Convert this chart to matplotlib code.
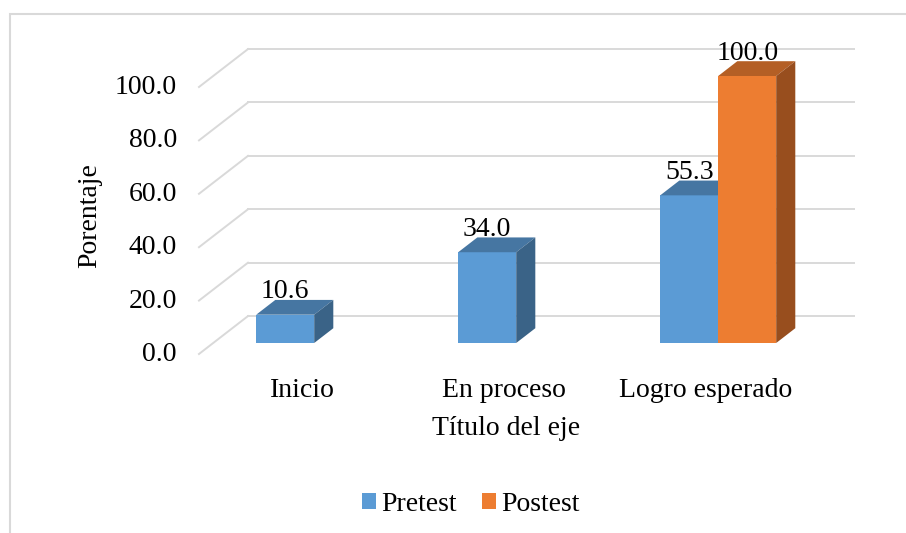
import numpy as np
import matplotlib
matplotlib.use("Agg")
import matplotlib.pyplot as plt
from matplotlib.patches import Polygon, Rectangle

plt.rcParams['font.family'] = ['Liberation Serif', 'DejaVu Serif']

# data
categories = ["Inicio", "En proceso", "Logro esperado"]
pretest = [10.6, 34.0, 55.3]
postest = [np.nan, np.nan, 100.0]
series_names = ["Pretest", "Postest"]
yticks = [0, 20, 40, 60, 80, 100]
xlabel = "Título del eje"
ylabel = "Porentaje"

# colours: front, top, side
colors = {
    "Pretest": ("#5B9BD5", "#4676A2", "#3A6387"),
    "Postest": ("#ED7D31", "#B45F25", "#984E1E"),
}
grid_color = "#D9D9D9"

# oblique projection of the 3D look (x in category units, y in value units)
DX = 0.2426   # full floor depth, x
DY = 14.2     # full floor depth, y
F1 = 0.29     # bar front plane (fraction of depth)
F2 = 0.68     # bar back plane
W = 0.287     # bar width
FS = 20

fig = plt.figure(figsize=(9.06, 5.33), dpi=100)
ax = fig.add_axes([0, 0, 1, 1])
ax.set_xlim(-1.485, 3.0)
ax.set_ylim(-67.04, 132.58)
ax.axis("off")

# chart area border
fig.patches.append(Rectangle((10 / 906, -0.1), 1.2, 1 - 14 / 533 + 0.1,
                             transform=fig.transFigure, fill=False,
                             edgecolor=grid_color, lw=1.5))

# walls: back gridlines and side diagonals
n = len(categories)
x_left, x_right = -0.5, n - 0.5
for v in yticks:
    ax.plot([x_left + DX, x_right + DX], [v + DY, v + DY], color=grid_color, lw=1.4, zorder=1)
    ax.plot([x_left, x_left + DX], [v, v + DY], color=grid_color, lw=1.4, zorder=1)
    ax.text(x_left - 0.109, v - 0.2, f"{v:.1f}", ha="right", va="center", fontsize=FS)

# bars
ddx = (F2 - F1) * DX
ddy = (F2 - F1) * DY
base = F1 * DY
for i in range(n):
    c = i + F1 * DX
    for s, vals in enumerate([pretest, postest]):
        v = vals[i]
        if np.isnan(v):
            continue
        front, top, side = colors[series_names[s]]
        x0 = c - W + s * W
        x1 = x0 + W
        b, t = base, base + v
        ax.add_patch(Polygon([(x0, b), (x1, b), (x1, t), (x0, t)],
                             facecolor=front, edgecolor="none", zorder=3 + s))
        ax.add_patch(Polygon([(x0, t), (x1, t), (x1 + ddx, t + ddy), (x0 + ddx, t + ddy)],
                             facecolor=top, edgecolor="none", zorder=3 + s))
        ax.add_patch(Polygon([(x1, b), (x1 + ddx, b + ddy), (x1 + ddx, t + ddy), (x1, t)],
                             facecolor=side, edgecolor="none", zorder=3 + s))
        ax.text((x0 + x1) / 2, t + ddy + 0.6, f"{v:.1f}", ha="center", va="baseline",
                fontsize=FS, zorder=10)

# category labels and axis titles
for i, cat in enumerate(categories):
    ax.text(i + 0.01, -16.1, cat, ha="center", va="baseline", fontsize=FS)
ax.text(1.02, -30.4, xlabel, ha="center", va="baseline", fontsize=FS)
ax.text(-1.04, 52, ylabel, ha="center", va="center", rotation=90, fontsize=FS)

# legend
handles = [Rectangle((0, 0), 1, 1, facecolor=colors[nm][0]) for nm in series_names]
fig.legend(handles, series_names, loc="center", bbox_to_anchor=(0.52, 0.054), ncol=2,
           frameon=False, fontsize=FS, handlelength=0.5, handleheight=0.5,
           handletextpad=0.2, columnspacing=0.9)

fig.savefig("out.png", dpi=100)
